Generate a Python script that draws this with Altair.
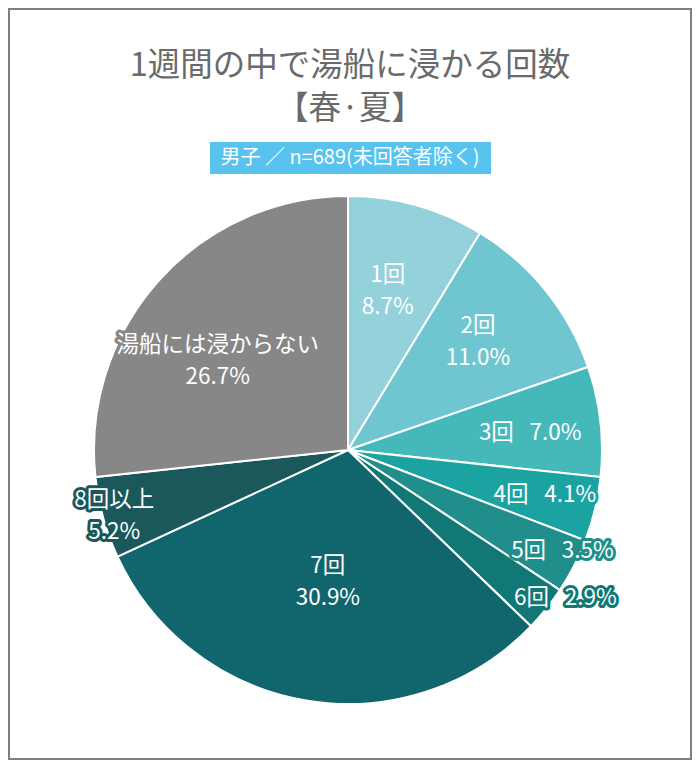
import altair as alt
import pandas as pd

# ---- data ----
categories = ["1回", "2回", "3回", "4回", "5回", "6回", "7回", "8回以上", "湯船には浸からない"]
percent = [8.7, 11.0, 7.0, 4.1, 3.5, 2.9, 30.9, 5.2, 26.7]
label_texts = [
    "1回\n8.7%",
    "2回\n11.0%",
    "3回\u2002\u20097.0%",
    "4回\u2002\u20094.1%",
    "5回\u2002\u20093.5%",
    "6回\u2002\u20092.9%",
    "7回\n30.9%",
    "8回以上\n5.2%",
    "湯船には浸からない\n26.7%",
]
title_lines = ["1週間の中で湯船に浸かる回数", "【春·夏】"]
subtitle = "男子 ／ n=689(未回答者除く)"

# ---- styles ----
colors = ["#93D1DB", "#6FC6D0", "#45B9BA", "#1BA3A2", "#208F8C",
          "#117876", "#10666C", "#1B585C", "#878787"]
label_radius = [164, 169, 183, 202, 237, 263, 134, 243, 158]   # px from centre
label_nudge_deg = [-1.6, -0.8, 1.2, -0.6, -2.0, -4.4, -0.9, -0.3, -7.5]
FONT = "Noto Sans CJK JP"
FS = 22.5
LH = 32
CX, CY, R = 340, 442, 254

df = pd.DataFrame({
    "cat": categories,
    "pct": percent,
    "label": label_texts,
    "idx": list(range(len(categories))),
    "lr": label_radius,
    "nudge": label_nudge_deg,
})

color_scale = alt.Scale(domain=categories, range=colors)
theta_scale = alt.Scale(domain=[0, 100], nice=False, zero=True)

pie = alt.Chart(df).mark_arc(outerRadius=R, stroke="white", strokeWidth=2).encode(
    theta=alt.Theta("pct:Q", stack=True, scale=theta_scale),
    order=alt.Order("idx:Q"),
    color=alt.Color("cat:N", scale=color_scale, legend=None),
    x=alt.value(CX),
    y=alt.value(CY),
)

lab_base = alt.Chart(df).transform_window(
    cum="sum(pct)", sort=[alt.SortField("idx")], frame=[None, 0]
).transform_calculate(
    mid="datum.cum - datum.pct / 2 + datum.nudge / 3.6",
    multi="indexof(datum.label, '\\n') >= 0 ? 1 : 0",
).encode(
    theta=alt.Theta("mid:Q", stack=False, scale=theta_scale),
    radius=alt.Radius("lr:Q", scale=None, stack=False),
    text="label:N",
    x=alt.value(CX),
    y=alt.value(CY),
)


def text_layers(filt, dy):
    b = lab_base.transform_filter(filt)
    outline = b.mark_text(
        font=FONT, fontSize=FS, lineBreak="\n", lineHeight=LH, dy=dy,
        strokeWidth=6, strokeJoin="round", align="center", baseline="middle",
    ).encode(
        stroke=alt.Stroke("cat:N", scale=color_scale, legend=None),
        color=alt.Color("cat:N", scale=color_scale, legend=None),
    )
    white = b.mark_text(
        font=FONT, fontSize=FS, lineBreak="\n", lineHeight=LH, dy=dy,
        color="white", align="center", baseline="middle",
    )
    return [outline, white]


multi_layers = text_layers("datum.multi == 1", -LH / 2)
single_layers = text_layers("datum.multi == 0", 0)

tdf = pd.DataFrame({"t": title_lines, "i": [0, 1]})
title1 = alt.Chart(tdf.iloc[[0]]).mark_text(
    font=FONT, fontSize=32.5, color="#6a6a6a", align="center", baseline="middle"
).encode(text="t:N", x=alt.value(342), y=alt.value(58))
title2 = alt.Chart(tdf.iloc[[1]]).mark_text(
    font=FONT, fontSize=32.5, color="#6a6a6a", align="center", baseline="middle"
).encode(text="t:N", x=alt.value(342), y=alt.value(101))

sdf = pd.DataFrame({"t": [subtitle]})
box = alt.Chart(sdf).mark_rect(color="#58C3EE").encode(
    x=alt.value(202), x2=alt.value(483), y=alt.value(134), y2=alt.value(166)
)
subtext = alt.Chart(sdf).mark_text(
    font=FONT, fontSize=20, color="white", align="center", baseline="middle"
).encode(text="t:N", x=alt.value(342), y=alt.value(150))

frame = alt.Chart(sdf).mark_rect(fillOpacity=0, stroke="#7f7f7f", strokeWidth=2).encode(
    x=alt.value(1), x2=alt.value(683), y=alt.value(1), y2=alt.value(751)
)

chart = alt.layer(
    pie, *multi_layers, *single_layers, title1, title2, box, subtext, frame
).properties(
    width=684, height=752, padding=0,
    autosize=alt.AutoSizeParams(type="fit", contains="padding"),
).configure_view(strokeOpacity=0).configure(background="white")

chart.save("out.html", embed_options={"renderer": "svg", "actions": False})
